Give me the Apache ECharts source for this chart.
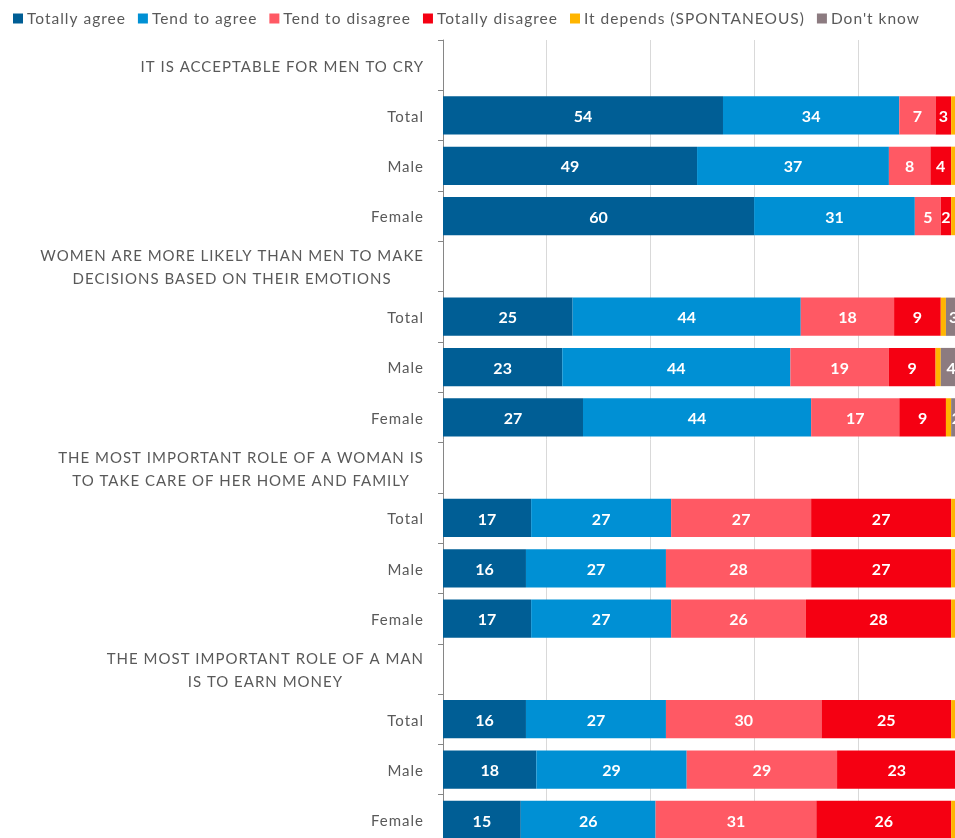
<!DOCTYPE html>
<html>
<head>
<meta charset="utf-8">
<script src="https://cdn.jsdelivr.net/npm/echarts@6/dist/echarts.min.js"></script>
<style>
  html, body { margin: 0; padding: 0; background: #fff; }
  #chart { width: 955px; height: 838px; }
</style>
</head>
<body>
<div id="chart"></div>
<script>
// Row labels: statement headers followed by Total / Male / Female breakdowns
const categories = [
  'IT IS ACCEPTABLE FOR MEN TO CRY', 'Total', 'Male', 'Female',
  'WOMEN ARE MORE LIKELY THAN MEN TO MAKE\nDECISIONS BASED ON THEIR EMOTIONS', 'Total', 'Male', 'Female',
  'THE MOST IMPORTANT ROLE OF A WOMAN IS\nTO TAKE CARE OF HER HOME AND FAMILY', 'Total', 'Male', 'Female',
  'THE MOST IMPORTANT ROLE OF A MAN\nIS TO EARN MONEY', 'Total', 'Male', 'Female'
];
// Header rows carry no bar
const headerRows = [0, 4, 8, 12];

const seriesNames = ['Totally agree', 'Tend to agree', 'Tend to disagree', 'Totally disagree', 'It depends (SPONTANEOUS)', "Don't know"];

// Percentages per row (null on header rows)
const totallyAgree    = [null, 54, 49, 60, null, 25, 23, 27, null, 17, 16, 17, null, 16, 18, 15];
const tendToAgree     = [null, 34, 37, 31, null, 44, 44, 44, null, 27, 27, 27, null, 27, 29, 26];
const tendToDisagree  = [null, 7, 8, 5, null, 18, 19, 17, null, 27, 28, 26, null, 30, 29, 31];
const totallyDisagree = [null, 3, 4, 2, null, 9, 9, 9, null, 27, 27, 28, null, 25, 23, 26];
const itDepends       = [null, 1, 1, 1, null, 1, 1, 1, null, 1, 1, 1, null, 1, 0, 1];
const dontKnow        = [null, 1, 1, 1, null, 3, 4, 2, null, 1, 1, 1, null, 1, 1, 1];

const seriesValues = [totallyAgree, tendToAgree, tendToDisagree, totallyDisagree, itDepends, dontKnow];
const seriesColors = ['#005e95', '#0090d4', '#ff5964', '#f50012', '#ffb500', '#8c7b80'];
const showLabel = [true, true, true, true, false, true];

const FONT = 'Lato, "Open Sans", sans-serif';

// Slightly tracked regular-weight text (bold value labels stay untracked).
const TRACKING = '1px';
function trackingFor(font) { return /bold/.test(font) ? '0px' : TRACKING; }
const measureCtx = document.createElement('canvas').getContext('2d');
echarts.setPlatformAPI({
  measureText: function (text, font) {
    measureCtx.font = font;
    measureCtx.letterSpacing = trackingFor(font);
    return measureCtx.measureText(text);
  }
});
const nativeFillText = CanvasRenderingContext2D.prototype.fillText;
CanvasRenderingContext2D.prototype.fillText = function (text, x, y, maxWidth) {
  this.letterSpacing = trackingFor(this.font);
  return maxWidth === undefined
    ? nativeFillText.call(this, text, x, y)
    : nativeFillText.call(this, text, x, y, maxWidth);
};

const chart = echarts.init(document.getElementById('chart'), null, { renderer: 'canvas' });

chart.setOption({
  animation: false,
  legend: {
    top: 5,
    left: 8,
    icon: 'rect',
    itemWidth: 10,
    itemHeight: 10,
    itemGap: 12,
    textStyle: { color: '#595959', fontSize: 15.5, fontFamily: FONT, padding: [0, 0, 0, -1] },
    data: seriesNames
  },
  grid: {
    left: 443,
    top: 40,
    right: -6.5,
    bottom: -7,
    outerBoundsMode: 'none',
    containLabel: false
  },
  xAxis: {
    type: 'value',
    min: 0,
    max: 100,
    interval: 20,
    axisLabel: { show: false },
    axisLine: { show: false },
    axisTick: { show: false },
    splitLine: { show: true, lineStyle: { color: '#d9d9d9', width: 1 } }
  },
  yAxis: {
    type: 'category',
    inverse: true,
    data: categories,
    axisLine: { show: true, lineStyle: { color: '#868686', width: 1 } },
    axisTick: { show: true, length: 5, lineStyle: { color: '#868686' } },
    axisLabel: {
      margin: 19,
      align: 'right',
      formatter: function (value, index) {
        return headerRows.indexOf(index) >= 0 ? '{h|' + value + '}' : '{n|' + value + '}';
      },
      rich: {
        h: { color: '#595959', fontSize: 15, fontFamily: FONT, align: 'center', lineHeight: 23, padding: [3, 0, 0, 0] },
        n: { color: '#595959', fontSize: 15, fontFamily: FONT, padding: [3, 0, 0, 0] }
      }
    }
  },
  series: seriesValues.map(function (vals, i) {
    return {
      name: seriesNames[i],
      type: 'bar',
      stack: 'total',
      barCategoryGap: '24%',
      itemStyle: { color: seriesColors[i] },
      label: {
        show: showLabel[i],
        position: 'inside',
        offset: [0, 1.5],
        color: '#ffffff',
        fontWeight: 'bold',
        fontSize: 16,
        fontFamily: FONT,
        formatter: function (p) { return p.value ? String(p.value) : ''; }
      },
      data: vals
    };
  })
});
</script>
</body>
</html>
